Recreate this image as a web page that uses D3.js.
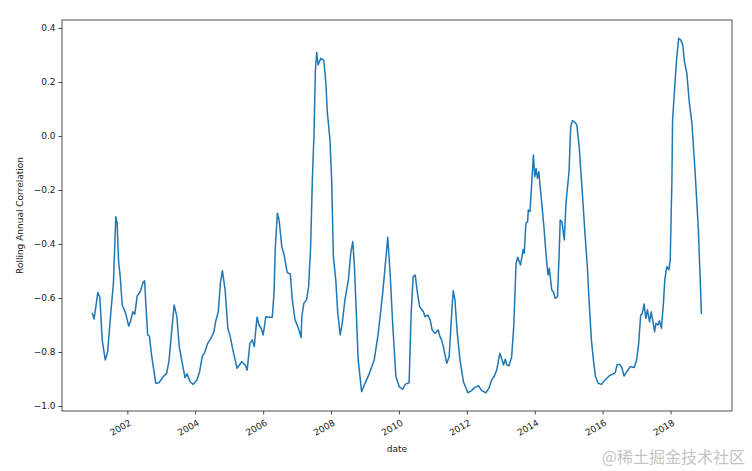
<!DOCTYPE html>
<html><head><meta charset="utf-8">
<script src="https://cdn.jsdelivr.net/npm/d3@7"></script>
<style>body{margin:0;background:#fff} svg{display:block}</style>
</head><body>
<svg id="chart" width="752" height="471"></svg>
<script>
// decimal-year dates and rolling annual correlation values
const years = [2000.97,2001.02,2001.13,2001.19,2001.26,2001.35,2001.42,2001.52,2001.59,2001.66,2001.70,2001.74,2001.79,2001.85,2001.95,
2002.04,2002.10,2002.16,2002.22,2002.29,2002.38,2002.47,2002.51,2002.55,2002.60,2002.65,2002.72,2002.84,2002.93,
2003.06,2003.16,2003.23,2003.31,2003.38,2003.46,2003.53,2003.62,2003.70,2003.76,2003.85,2003.94,
2004.05,2004.13,2004.21,2004.27,2004.37,2004.49,2004.55,2004.60,2004.68,2004.74,2004.80,2004.88,2004.96,
2005.03,2005.13,2005.23,2005.37,2005.47,2005.53,2005.61,2005.68,2005.74,2005.76,2005.82,2005.88,2005.94,
2006.00,2006.08,2006.15,2006.27,2006.32,2006.36,2006.42,2006.47,2006.55,2006.62,2006.71,2006.80,2006.86,2006.94,
2007.04,2007.12,2007.14,2007.20,2007.28,2007.34,2007.40,2007.45,2007.50,2007.54,2007.58,2007.62,2007.70,2007.79,2007.85,2007.89,2007.97,
2008.02,2008.07,2008.14,2008.20,2008.27,2008.33,2008.41,2008.51,2008.58,2008.64,2008.69,2008.74,2008.80,2008.90,
2009.00,2009.13,2009.27,2009.39,2009.52,2009.62,2009.67,2009.74,2009.82,2009.91,
2010.01,2010.11,2010.19,2010.30,2010.36,2010.42,2010.48,2010.54,2010.61,2010.72,2010.77,2010.85,2010.92,2010.98,
2011.06,2011.16,2011.21,2011.26,2011.33,2011.41,2011.48,2011.56,2011.60,2011.65,2011.72,2011.80,2011.90,
2012.03,2012.14,2012.24,2012.34,2012.44,2012.56,2012.65,2012.73,2012.81,2012.88,2012.97,
2013.03,2013.08,2013.13,2013.18,2013.24,2013.32,2013.38,2013.45,2013.50,2013.58,2013.66,2013.69,2013.74,2013.79,2013.81,2013.86,2013.91,2013.96,
2014.00,2014.04,2014.08,2014.12,2014.16,2014.22,2014.27,2014.33,2014.39,2014.43,2014.50,2014.55,2014.60,2014.67,2014.72,2014.75,2014.80,2014.87,2014.92,
2015.01,2015.06,2015.11,2015.17,2015.24,2015.31,2015.39,2015.48,2015.55,2015.60,2015.67,2015.73,2015.79,2015.87,2015.97,
2016.07,2016.20,2016.37,2016.43,2016.51,2016.57,2016.63,2016.71,2016.81,2016.93,
2017.00,2017.06,2017.12,2017.17,2017.22,2017.27,2017.32,2017.38,2017.43,2017.49,2017.53,2017.57,2017.63,2017.67,2017.73,2017.79,2017.83,2017.89,2017.95,2017.99,
2018.04,2018.06,2018.13,2018.18,2018.24,2018.30,2018.36,2018.41,2018.48,2018.55,2018.63,2018.72,2018.82,2018.91];
const corr = [-0.657,-0.678,-0.580,-0.597,-0.756,-0.830,-0.799,-0.644,-0.546,-0.299,-0.323,-0.459,-0.521,-0.626,-0.657,
-0.704,-0.684,-0.651,-0.660,-0.593,-0.577,-0.540,-0.536,-0.632,-0.737,-0.741,-0.817,-0.916,-0.914,
-0.891,-0.879,-0.830,-0.719,-0.626,-0.669,-0.780,-0.842,-0.895,-0.881,-0.910,-0.920,
-0.904,-0.873,-0.815,-0.805,-0.768,-0.743,-0.725,-0.688,-0.651,-0.546,-0.499,-0.570,-0.712,
-0.743,-0.805,-0.860,-0.836,-0.848,-0.867,-0.768,-0.756,-0.780,-0.749,-0.671,-0.700,-0.712,
-0.737,-0.669,-0.671,-0.671,-0.583,-0.410,-0.286,-0.311,-0.410,-0.441,-0.506,-0.511,-0.607,-0.681,
-0.712,-0.746,-0.669,-0.620,-0.607,-0.558,-0.410,-0.163,0.010,0.244,0.309,0.263,0.288,0.279,0.195,0.090,-0.015,
-0.163,-0.447,-0.533,-0.657,-0.737,-0.694,-0.607,-0.533,-0.434,-0.391,-0.484,-0.644,-0.830,-0.947,
-0.916,-0.879,-0.830,-0.731,-0.583,-0.447,-0.375,-0.509,-0.706,-0.891,
-0.929,-0.938,-0.919,-0.914,-0.657,-0.521,-0.515,-0.577,-0.632,-0.651,-0.669,-0.663,-0.681,-0.719,
-0.731,-0.719,-0.743,-0.756,-0.793,-0.842,-0.817,-0.644,-0.573,-0.607,-0.731,-0.830,-0.910,
-0.951,-0.943,-0.931,-0.925,-0.943,-0.951,-0.934,-0.904,-0.889,-0.867,-0.805,
-0.827,-0.848,-0.827,-0.848,-0.851,-0.817,-0.706,-0.471,-0.449,-0.478,-0.420,-0.434,-0.323,-0.317,-0.274,-0.280,-0.175,-0.070,
-0.151,-0.120,-0.157,-0.132,-0.188,-0.268,-0.336,-0.434,-0.515,-0.490,-0.570,-0.577,-0.601,-0.595,-0.434,-0.311,-0.317,-0.385,-0.249,
-0.132,0.034,0.057,0.053,0.041,-0.040,-0.188,-0.360,-0.484,-0.607,-0.756,-0.830,-0.891,-0.916,-0.920,
-0.904,-0.888,-0.877,-0.846,-0.846,-0.860,-0.889,-0.873,-0.854,-0.857,
-0.830,-0.768,-0.663,-0.657,-0.622,-0.675,-0.644,-0.688,-0.651,-0.694,-0.725,-0.694,-0.700,-0.684,-0.712,-0.620,-0.533,-0.484,-0.496,-0.459,
-0.163,0.059,0.195,0.288,0.362,0.356,0.337,0.275,0.232,0.127,0.047,-0.126,-0.348,-0.657];
const xTickYears = [2002,2004,2006,2008,2010,2012,2014,2016,2018];
const yTicks = [-1.0,-0.8,-0.6,-0.4,-0.2,0.0,0.2,0.4];
const xDomainYears = [2000.077, 2019.811];
const yDomain = [-1.0185, 0.4296];

function decYear(y){
  const yr = Math.floor(y);
  const start = new Date(yr,0,1), end = new Date(yr+1,0,1);
  return new Date(start.getTime() + (y-yr)*(end-start));
}
const data = years.map((y,i)=>({date:decYear(y), v:corr[i]}));

const svg = d3.select("#chart");
const L=62, R=732, T=20, B=411;
const x = d3.scaleTime().domain(xDomainYears.map(decYear)).range([L,R]);
const y = d3.scaleLinear().domain(yDomain).range([B,T]);
const font = "DejaVu Sans, sans-serif";
const txt = "#222";

// line
svg.append("path").datum(data)
  .attr("fill","none").attr("stroke","#1f77b4").attr("stroke-width",1.5)
  .attr("stroke-linejoin","round").attr("stroke-linecap","square")
  .attr("d", d3.line().x(d=>x(d.date)).y(d=>y(d.v)));

// axes
const fmtY = v => d3.format(".1f")(v).replace("-","\u2212");
const xAxis = d3.axisBottom(x).tickValues(xTickYears.map(yy=>new Date(yy,0,1)))
  .tickFormat(d3.timeFormat("%Y")).tickSize(3.5).tickPadding(3);
const gx = svg.append("g").attr("transform",`translate(0,${B})`).call(xAxis);
gx.select(".domain").remove();
gx.selectAll(".tick line").attr("stroke","#222").attr("stroke-width",0.8);
gx.selectAll(".tick text").attr("font-family",font).attr("font-size",9).attr("fill",txt)
  .attr("text-anchor","end").attr("dy",null).attr("y",0)
  .attr("transform","translate(1,8) rotate(-30)").attr("dominant-baseline","hanging");

const yAxis = d3.axisLeft(y).tickValues(yTicks).tickFormat(fmtY).tickSize(3.5).tickPadding(3);
const gy = svg.append("g").attr("transform",`translate(${L},0)`).call(yAxis);
gy.select(".domain").remove();
gy.selectAll(".tick line").attr("stroke","#222").attr("stroke-width",0.8);
gy.selectAll(".tick text").attr("font-family",font).attr("font-size",9).attr("fill",txt);

// frame
svg.append("rect").attr("x",L).attr("y",T).attr("width",R-L).attr("height",B-T)
  .attr("fill","none").attr("stroke","#222").attr("stroke-width",0.8);

// labels
svg.append("text").attr("x",(L+R)/2).attr("y",452).attr("text-anchor","middle")
  .attr("font-family",font).attr("font-size",9).attr("fill",txt).text("date");
svg.append("text").attr("transform",`translate(23,${(T+B)/2}) rotate(-90)`).attr("text-anchor","middle")
  .attr("font-family",font).attr("font-size",9).attr("fill",txt).text("Rolling Annual Correlation");

// watermark
svg.append("text").attr("x",745).attr("y",463).attr("text-anchor","end")
  .attr("font-family","Noto Sans CJK SC, sans-serif").attr("font-size",16).attr("fill","#c4c4c4")
  .text("@稀土掘金技术社区");
</script>
</body></html>
